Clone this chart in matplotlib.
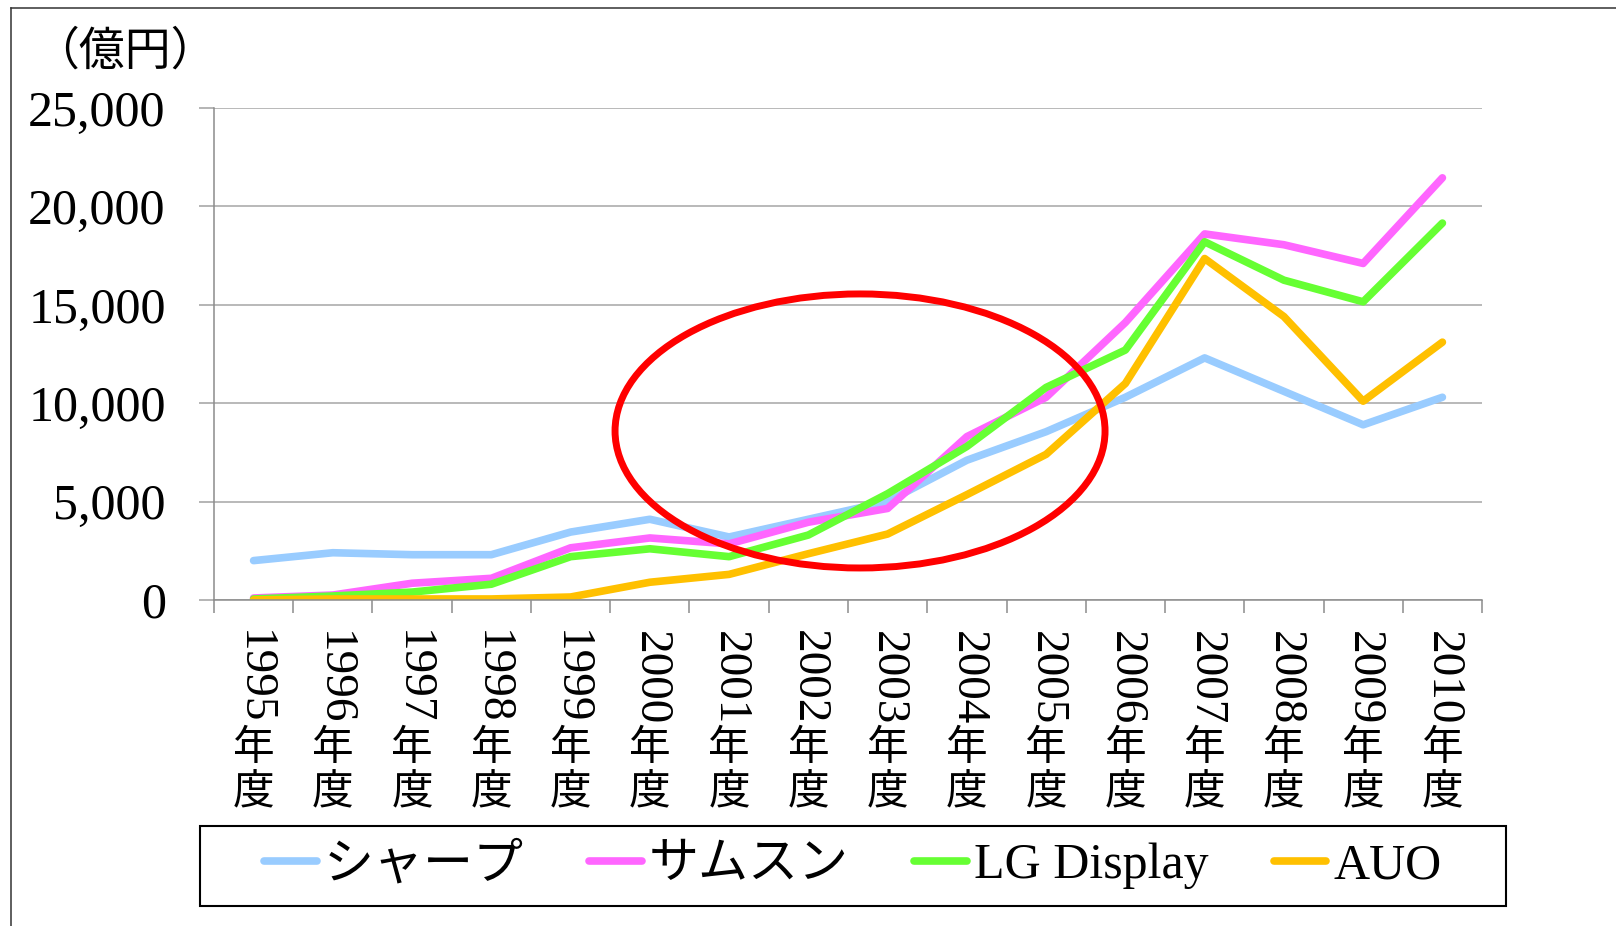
import matplotlib
matplotlib.use('Agg')
import matplotlib.pyplot as plt
from matplotlib.patches import Ellipse, Rectangle
from matplotlib.lines import Line2D
from matplotlib.ticker import MultipleLocator, FuncFormatter

plt.rcParams['font.family'] = ['Liberation Serif', 'Noto Sans CJK JP', 'DejaVu Sans']

# LCD panel sales per fiscal year (100 million yen)
years = [str(y) for y in range(1995, 2011)]
series_names = ['シャープ', 'サムスン', 'LG Display', 'AUO']
sharp = [2000, 2400, 2300, 2300, 3450, 4100, 3200, 4100, 5000, 7100, 8550, 10300, 12300, 10600, 8900, 10300]
samsung = [100, 250, 850, 1100, 2650, 3150, 2850, 3950, 4650, 8300, 10300, 14100, 18600, 18050, 17100, 21450]
lg = [50, 200, 400, 800, 2200, 2600, 2200, 3300, 5400, 7800, 10800, 12700, 18200, 16250, 15150, 19150]
auo = [0, 50, 50, 50, 150, 900, 1300, 2350, 3350, 5350, 7400, 11000, 17350, 14400, 10100, 13100]
colors = ['#99ccff', '#ff66ff', '#66ff33', '#ffc000']
unit_label = '（億円）'

fig = plt.figure(figsize=(16.16, 9.26), dpi=100)
ax = fig.add_axes([0.1324, 0.3521, 0.7847, 0.5313])

xs = list(range(len(years)))
for name, vals, color in zip(series_names, [sharp, samsung, lg, auo], colors):
    ax.plot(xs, vals, color=color, lw=5.5, solid_capstyle='round',
            solid_joinstyle='round', label=name)

ax.set_xlim(-0.5, len(years) - 0.5)
ax.set_ylim(0, 25000)
ax.yaxis.set_major_locator(MultipleLocator(5000))
ax.yaxis.set_major_formatter(FuncFormatter(lambda v, p: f'{int(v):,}'))
ax.set_xticks([i - 0.5 for i in range(len(years) + 1)])
ax.set_xticklabels([])
ax.tick_params(axis='x', length=9.5, width=1.1, color='#8c8c8c', direction='out')
ax.tick_params(axis='y', length=10.8, width=1.1, color='#a0a0a0', labelsize=36, pad=24)
ax.grid(axis='y', color='#a6a6a6', lw=1.1)
ax.set_axisbelow(True)
for side in ['top', 'right']:
    ax.spines[side].set_visible(False)
for side in ['left', 'bottom']:
    ax.spines[side].set_color('#8c8c8c')
    ax.spines[side].set_linewidth(1.1)

# vertical category labels: rotated year, then 年 / 度 stacked upright
for i, y in enumerate(years):
    ax.annotate(y, xy=(i, 0), xycoords=('data', 'axes fraction'), xytext=(0, -56),
                textcoords='offset points', rotation=-90, ha='center', va='center', fontsize=34)
    ax.annotate('年', xy=(i, 0), xycoords=('data', 'axes fraction'), xytext=(0, -108),
                textcoords='offset points', ha='center', va='center', fontsize=30)
    ax.annotate('度', xy=(i, 0), xycoords=('data', 'axes fraction'), xytext=(0, -140),
                textcoords='offset points', ha='center', va='center', fontsize=30)

# red circle highlighting the catch-up period
ax.add_patch(Ellipse((0.5095, 0.3435), 0.3864, 0.557, transform=ax.transAxes,
                     fill=False, ec='#ff0000', lw=5, zorder=5, clip_on=False))

fig.text(125 / 1616, 1 - 53 / 926, unit_label, ha='center', va='center', fontsize=33)

# legend with its own box
fig.add_artist(Rectangle((200 / 1616, 1 - 906 / 926), 1306 / 1616, 80 / 926,
                         transform=fig.transFigure, fill=False, ec='black', lw=1.5))
fig.legend(loc='center', bbox_to_anchor=(853 / 1616, 1 - 866 / 926), ncol=4, frameon=False,
           fontsize=36, handlelength=1.05, handletextpad=0.15, columnspacing=1.3)

# outer border (left and top only)
fig.add_artist(Line2D([11 / 1616, 11 / 1616], [0, 1 - 8 / 926], transform=fig.transFigure,
                      color='#333333', lw=1.1))
fig.add_artist(Line2D([11 / 1616, 1], [1 - 8 / 926, 1 - 8 / 926], transform=fig.transFigure,
                      color='#333333', lw=1.1))

fig.savefig('out.png', dpi=100)
